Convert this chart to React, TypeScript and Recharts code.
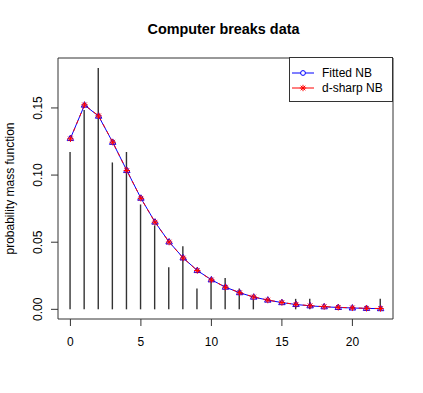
import React from 'react';
import { ComposedChart, Bar, Line, XAxis, YAxis, ReferenceArea, Legend } from 'recharts';

const breaks = [0, 1, 2, 3, 4, 5, 6, 7, 8, 9, 10, 11, 12, 13, 14, 15, 16, 17, 18, 19, 20, 21, 22];
const observedPmf = [0.1172, 0.1484, 0.1797, 0.1094, 0.1172, 0.0781, 0.0625, 0.0313, 0.0469, 0.0156, 0.0234, 0.0234, 0.0156, 0.0078, 0, 0, 0.0078, 0.0078, 0, 0, 0, 0, 0.0078];
const fittedNB = [0.1273, 0.1521, 0.1439, 0.1244, 0.1034, 0.0828, 0.065, 0.0502, 0.0383, 0.0289, 0.022, 0.0165, 0.0124, 0.0091, 0.0069, 0.005, 0.0036, 0.0026, 0.0019, 0.0014, 0.001, 0.0007, 0.0005];
const dsharpNB = [0.127, 0.1523, 0.1441, 0.1245, 0.1034, 0.0827, 0.0649, 0.0501, 0.0382, 0.0289, 0.0219, 0.0165, 0.0124, 0.0092, 0.0069, 0.0051, 0.0037, 0.0027, 0.002, 0.0015, 0.0011, 0.0008, 0.0006];
const xTicks = [0, 5, 10, 15, 20];
const yTicks = [0, 0.05, 0.1, 0.15];
const seriesNames = ['Fitted NB', 'd-sharp NB'];
const title = 'Computer breaks data';
const yLabel = 'probability mass function';

const data = breaks.map((b, i) => ({ x: b, observed: observedPmf[i], fitted: fittedNB[i], dsharp: dsharpNB[i] }));

const FONT = '"Liberation Sans", Arial, sans-serif';
const BLUE = '#0000FF';
const RED = '#FF0000';

const Triangle = (props: any) => {
  const { cx, cy } = props;
  if (cx == null || cy == null) return null;
  const r = 3.4;
  return (
    <path
      d={`M${cx},${cy - r} L${cx + r * 0.95},${cy + r * 0.6} L${cx - r * 0.95},${cy + r * 0.6} Z`}
      fill="none"
      stroke={BLUE}
      strokeWidth={1}
    />
  );
};

const Asterisk = (props: any) => {
  const { cx, cy } = props;
  if (cx == null || cy == null) return null;
  const r = 3.2;
  const d = r * 0.72;
  return (
    <g stroke={RED} strokeWidth={1}>
      <line x1={cx - r} y1={cy} x2={cx + r} y2={cy} />
      <line x1={cx} y1={cy - r} x2={cx} y2={cy + r} />
      <line x1={cx - d} y1={cy - d} x2={cx + d} y2={cy + d} />
      <line x1={cx - d} y1={cy + d} x2={cx + d} y2={cy - d} />
    </g>
  );
};

const XTick = (props: any) => {
  const { x, y, payload } = props;
  return (
    <text x={x} y={y + 20} textAnchor="middle" fontFamily={FONT} fontSize={12} fill="#000">
      {payload.value}
    </text>
  );
};

const YTick = (props: any) => {
  const { x, y, payload } = props;
  const tx = x - 9;
  return (
    <text x={tx} y={y} transform={`rotate(-90, ${tx}, ${y})`} textAnchor="middle" fontFamily={FONT} fontSize={12} fill="#000">
      {Number(payload.value).toFixed(2)}
    </text>
  );
};

const LegendBox = () => (
  <svg width={104} height={45} style={{ display: 'block' }}>
    <rect x={0.5} y={0.5} width={103} height={44} fill="#fff" stroke="#333" strokeWidth={1} />
    <line x1={3} y1={16} x2={25} y2={16} stroke={BLUE} strokeWidth={1} />
    <circle cx={14} cy={16} r={2.4} fill="#fff" stroke={BLUE} strokeWidth={1} />
    <text x={33} y={20} fontFamily={FONT} fontSize={12} fill="#000">{seriesNames[0]}</text>
    <line x1={3} y1={31} x2={25} y2={31} stroke={RED} strokeWidth={1} />
    <Asterisk cx={14} cy={31} />
    <text x={33} y={35} fontFamily={FONT} fontSize={12} fill="#000">{seriesNames[1]}</text>
  </svg>
);

export default function App() {
  return (
    <div style={{ position: 'absolute', left: 0, top: 0, width: 423, height: 393, background: '#fff' }}>
      <div
        style={{
          position: 'absolute',
          left: 56,
          width: 335,
          top: 21,
          textAlign: 'center',
          fontFamily: FONT,
          fontWeight: 'bold',
          fontSize: 14.4,
          color: '#000',
          lineHeight: '17px',
          zIndex: 2,
        }}
      >
        {title}
      </div>
      <ComposedChart width={423} height={393} data={data} margin={{ top: 58, right: 30, bottom: 0, left: 0 }}>
        <XAxis
          dataKey="x"
          type="number"
          domain={[-0.88, 22.88]}
          ticks={xTicks}
          allowDataOverflow
          axisLine={false}
          tickLine={{ stroke: '#333' }}
          tickSize={7}
          tickMargin={0}
          height={74}
          tick={<XTick />}
          interval={0}
        />
        <YAxis
          type="number"
          domain={[-0.0072, 0.1872]}
          ticks={yTicks}
          allowDataOverflow
          axisLine={false}
          tickLine={{ stroke: '#333' }}
          tickSize={7}
          tickMargin={0}
          width={58}
          tick={<YTick />}
          interval={0}
          label={{
            content: (p: any) => {
              const vb = p.viewBox || { x: 0, y: 58, width: 58, height: 261 };
              const cy = vb.y + vb.height / 2;
              return (
                <text x={14} y={cy} transform={`rotate(-90, 14, ${cy})`} textAnchor="middle" fontFamily={FONT} fontSize={12} fill="#000">
                  {yLabel}
                </text>
              );
            },
          }}
        />
        <ReferenceArea x1={-0.88} x2={22.88} y1={-0.0072} y2={0.1872} fill="none" fillOpacity={0} stroke="#333" strokeWidth={1} ifOverflow="visible" />
        <Bar dataKey="observed" barSize={1.4} fill="#333" isAnimationActive={false} />
        <Line
          dataKey="fitted"
          name={seriesNames[0]}
          type="linear"
          stroke={BLUE}
          strokeWidth={1}
          dot={<Triangle />}
          activeDot={false}
          isAnimationActive={false}
        />
        <Line
          dataKey="dsharp"
          name={seriesNames[1]}
          type="linear"
          stroke={RED}
          strokeWidth={1}
          strokeDasharray="4 4"
          dot={<Asterisk />}
          activeDot={false}
          isAnimationActive={false}
        />
        <Legend
          layout="horizontal"
          verticalAlign="middle"
          align="center"
          wrapperStyle={{ position: 'absolute', left: 289, top: 57, width: 104, height: 45 }}
          content={() => <LegendBox />}
        />
      </ComposedChart>
    </div>
  );
}
